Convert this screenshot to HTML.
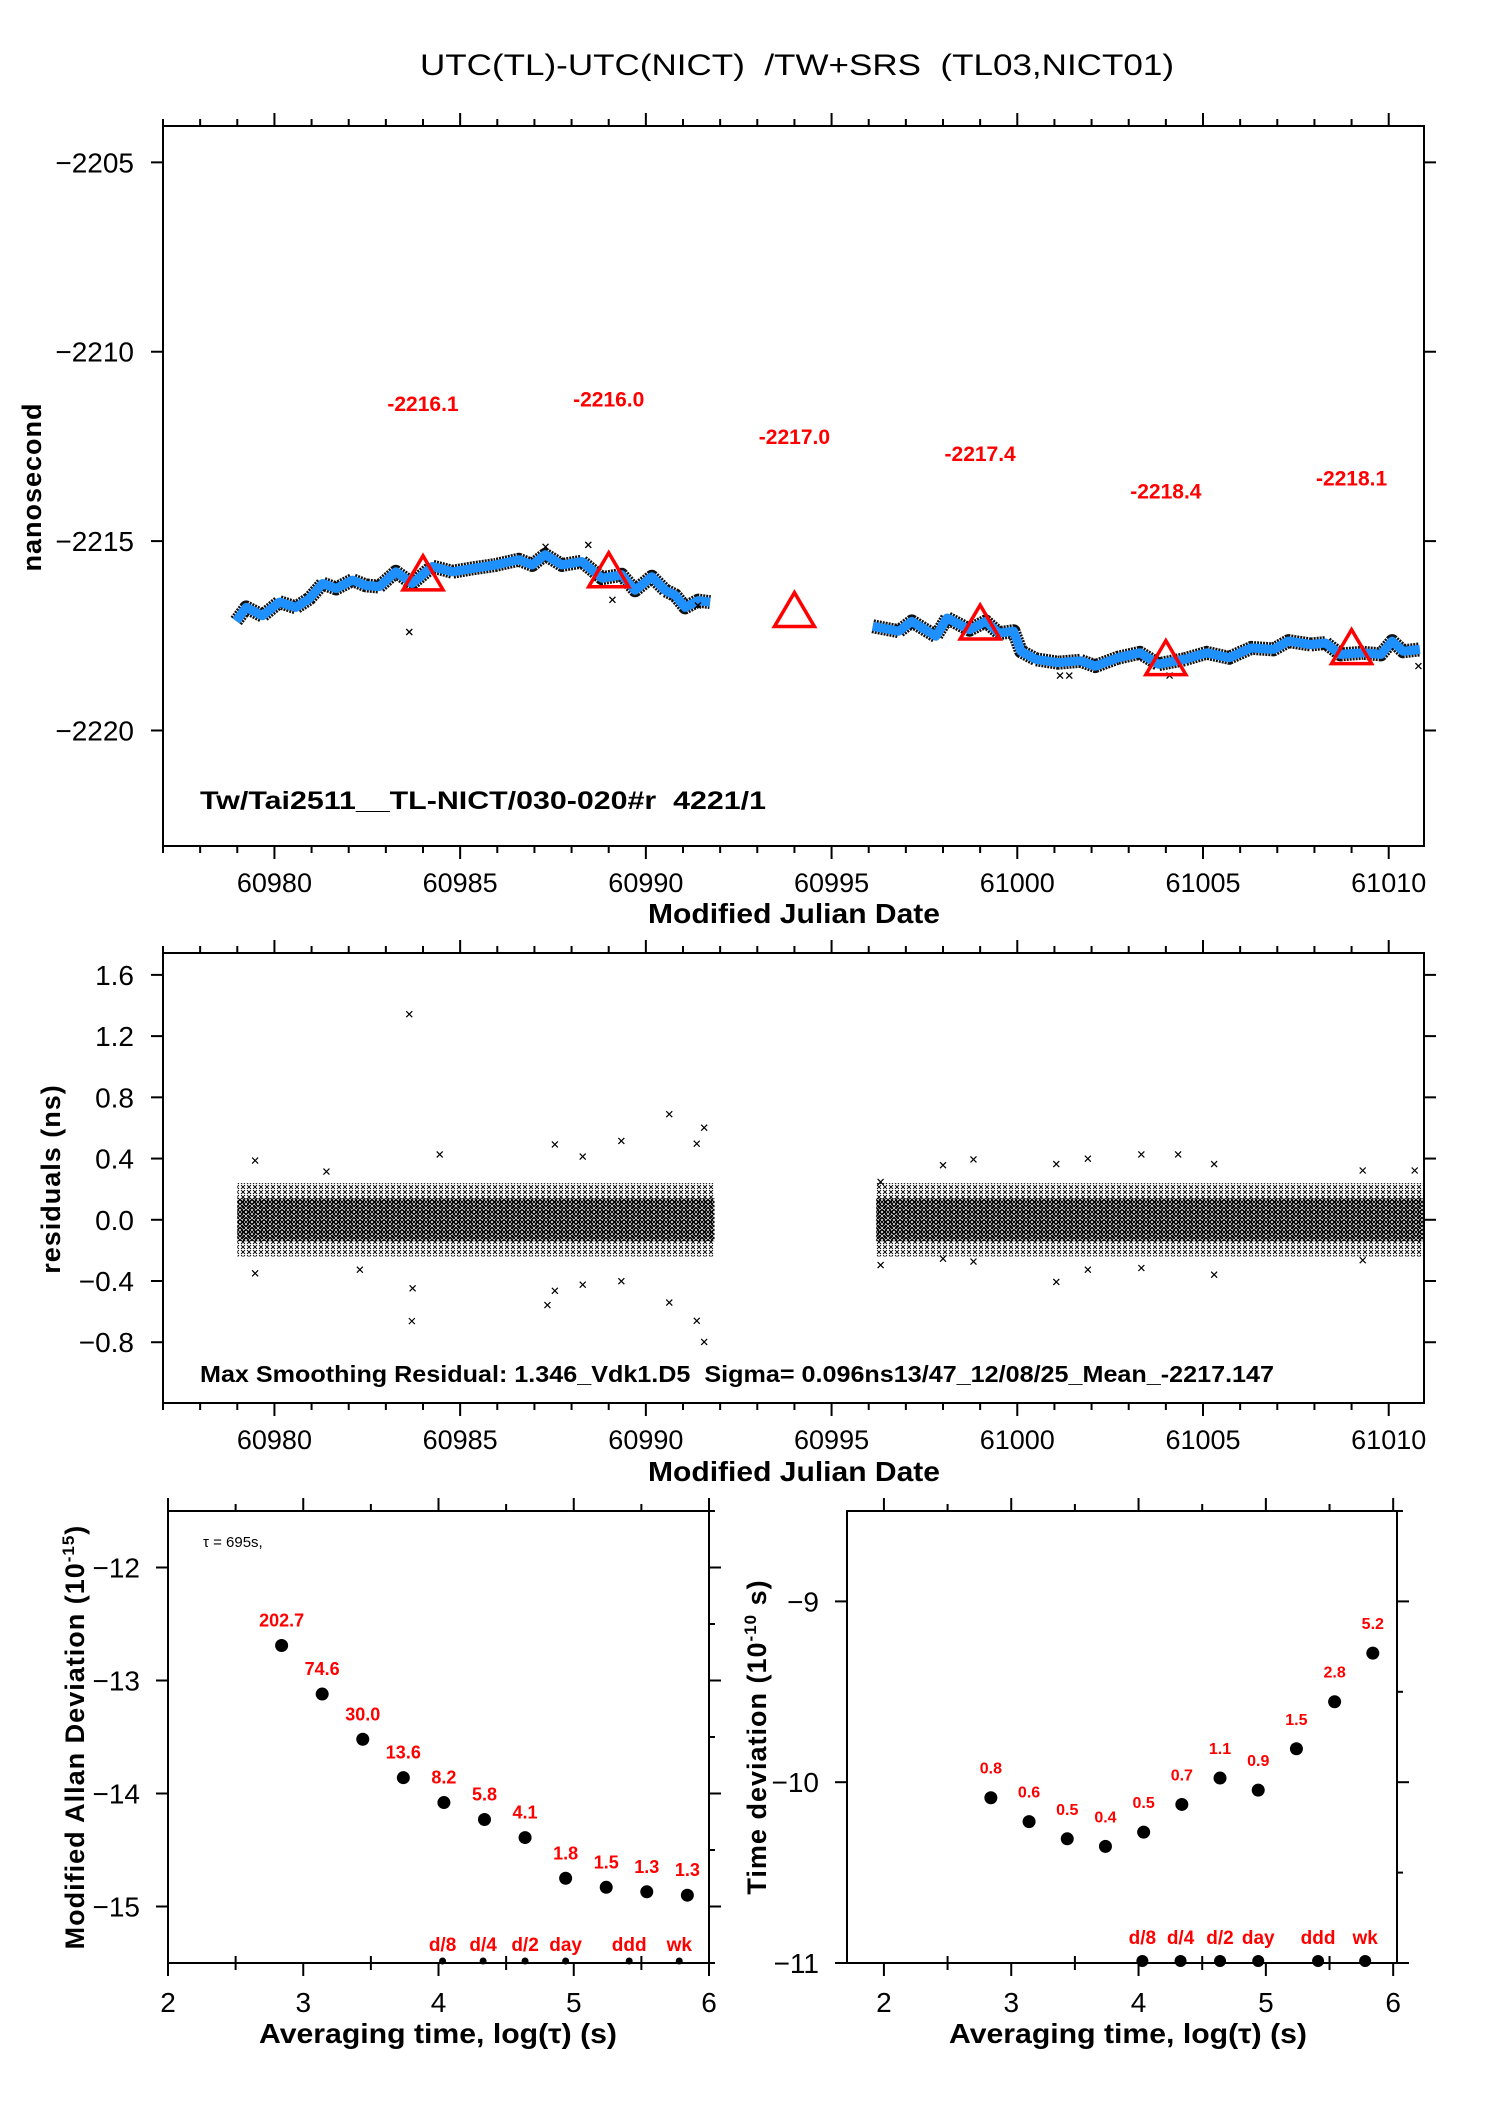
<!DOCTYPE html>
<html><head><meta charset="utf-8"><style>
html,body{margin:0;padding:0;background:#fff;}
svg{display:block;font-family:"Liberation Sans",Arial,sans-serif;}
text{white-space:pre;}
</style></head><body>
<svg id="chart" width="1488" height="2105" viewBox="0 0 1488 2105" xmlns="http://www.w3.org/2000/svg">
<defs>
<pattern id="xpat" width="4" height="4" patternUnits="userSpaceOnUse">
<path d="M0,0L4,4M4,0L0,4" stroke="#000" stroke-width="1"/>
</pattern>
<pattern id="xpat2" width="6" height="5" patternUnits="userSpaceOnUse">
<path d="M1,0L5,4M5,0L1,4" stroke="#000" stroke-width="0.9"/>
</pattern>
</defs>
<text x="797" y="75" font-size="30" text-anchor="middle" textLength="754" lengthAdjust="spacingAndGlyphs">UTC(TL)-UTC(NICT)  /TW+SRS  (TL03,NICT01)</text>
</svg>
<script>
// ---------- Data: panel 1 (time series) ----------
const seriesMjd = [60978.97,60979.24,60979.68,60980.13,60980.58,60980.94,60981.30,60981.66,60982.10,60982.46,60982.82,60983.27,60983.71,60984.25,60984.79,60985.33,60985.95,60986.58,60986.94,60987.29,60987.74,60988.28,60988.82,60989.35,60989.71,60990.16,60990.52,60990.79,60991.06,60991.41,60991.73,
 null,
 60996.11,60996.81,60997.16,60997.81,60998.11,60998.71,60999.15,60999.51,60999.90,61000.10,61000.50,61001.10,61001.70,61002.10,61002.70,61003.30,61003.80,61004.50,61005.10,61005.70,61006.30,61006.90,61007.30,61007.90,61008.30,61008.70,61009.30,61009.79,61010.09,61010.39,61010.84];
const seriesNs = [-2217.11,-2216.75,-2216.97,-2216.61,-2216.75,-2216.52,-2216.12,-2216.25,-2216.03,-2216.17,-2216.20,-2215.81,-2216.12,-2215.67,-2215.81,-2215.72,-2215.63,-2215.49,-2215.63,-2215.36,-2215.63,-2215.54,-2215.98,-2215.89,-2216.30,-2215.94,-2216.30,-2216.43,-2216.75,-2216.57,-2216.61,
 null,
 -2217.25,-2217.38,-2217.12,-2217.51,-2217.03,-2217.34,-2217.12,-2217.43,-2217.38,-2217.91,-2218.12,-2218.21,-2218.16,-2218.30,-2218.08,-2217.95,-2218.25,-2218.12,-2217.95,-2218.08,-2217.82,-2217.86,-2217.64,-2217.73,-2217.69,-2217.99,-2217.95,-2217.99,-2217.64,-2217.91,-2217.86];
const outlierMjd = [60983.63,60987.30,60988.45,60989.10,60991.40,61001.15,61001.40,61004.10,61010.80];
const outlierNs = [-2217.40,-2215.15,-2215.10,-2216.55,-2216.70,-2218.55,-2218.55,-2218.55,-2218.30];
const triMjd = [60984,60989,60994,60999,61004,61009];
const triNs = [-2215.89,-2215.81,-2216.86,-2217.19,-2218.13,-2217.84];
const triLabels = ["-2216.1","-2216.0","-2217.0","-2217.4","-2218.4","-2218.1"];
const triLabelNs = [-2211.36,-2211.23,-2212.23,-2212.68,-2213.66,-2213.32];
const p1YTicks = [-2205,-2210,-2215,-2220];
const mjdTicks = [60980,60985,60990,60995,61000,61005,61010];

// ---------- Data: panel 2 (residuals) ----------
const bandStart = [60979.0,60996.2];
const bandEnd = [60991.85,61010.95];
const residMjd = [60983.63,60979.48,60979.48,60983.70,60983.72,60987.35,60987.55,60987.55,60989.34,60989.34,60990.63,60990.63,60991.57,60991.57,60991.37,60991.37,60984.45,60982.30,60981.40,60988.30,60988.30,60996.32,60996.32,60998.82,60998.82,61001.05,61001.05,61001.90,61001.90,61003.34,61003.34,61004.33,61005.30,61005.30,61009.30,61009.30,61010.70,60998.00,60998.00];
const residVal = [1.343,0.387,-0.35,-0.662,-0.448,-0.557,-0.464,0.492,0.515,-0.401,0.69,-0.541,0.602,-0.798,-0.66,0.497,0.427,-0.326,0.315,0.413,-0.424,-0.296,0.247,0.394,-0.273,0.364,-0.406,0.399,-0.326,0.427,-0.315,0.427,0.364,-0.359,0.322,-0.264,0.322,0.357,-0.254];
const p2YTicks = [1.6,1.2,0.8,0.4,0.0,-0.4,-0.8];
const p2YLabels = ["1.6","1.2","0.8","0.4","0.0","\u22120.4","\u22120.8"];

// ---------- Data: panels 3/4 (stability) ----------
const logTau = [2.84,3.14,3.44,3.74,4.04,4.34,4.64,4.94,5.24,5.54,5.84];
const mdevLabels = ["202.7","74.6","30.0","13.6","8.2","5.8","4.1","1.8","1.5","1.3","1.3"];
const mdevLog = [-12.69,-13.12,-13.52,-13.86,-14.08,-14.23,-14.39,-14.75,-14.83,-14.87,-14.90];
const tdevLabels = ["0.8","0.6","0.5","0.4","0.5","0.7","1.1","0.9","1.5","2.8","5.2"];
const tdevLog = [-10.086,-10.218,-10.313,-10.355,-10.276,-10.123,-9.977,-10.044,-9.815,-9.555,-9.286];
const markNames = ["d/8","d/4","d/2","day","ddd","wk"];
const markLog = [4.03,4.33,4.64,4.94,5.41,5.78];
const mdevYTicks = [-12,-13,-14,-15];
const tdevYTicks = [-9,-10,-11];
const tauTicks = [2,3,4,5,6];

// ---------- helpers ----------
const NS = "http://www.w3.org/2000/svg";
const svg = document.getElementById("chart");
function mk(tag, attrs, parent){
  const e = document.createElementNS(NS, tag);
  for (const k in attrs) e.setAttribute(k, attrs[k]);
  (parent||svg).appendChild(e);
  return e;
}
function lin(d0,d1,r0,r1){ return v => r0 + (v-d0)*(r1-r0)/(d1-d0); }
function line(x1,y1,x2,y2,g,w){ return mk("line",{x1:x1,y1:y1,x2:x2,y2:y2,stroke:"#000","stroke-width":w||2},g); }

// ---------- Panel 1 ----------
const P1 = {l:163,r:1424,t:126,b:846};
const x1 = lin(60977,61010.95,P1.l,P1.r);
const y1 = lin(-2223.05,-2204.04,P1.b,P1.t);
const g1 = mk("g",{});


const f1 = mk("rect",{x:P1.l,y:P1.t,width:P1.r-P1.l,height:P1.b-P1.t,fill:"none",stroke:"#000","stroke-width":2},g1);


for (let d=60977; d<=61010; d++){
  const major = (d%5===0);
  const L = major?13:7;
  line(x1(d),P1.t,x1(d),P1.t-L,g1,2);
  line(x1(d),P1.b,x1(d),P1.b+L,g1,2);
}
mjdTicks.forEach(v=>{
  const t = mk("text",{x:x1(v),y:892,"font-size":27,"text-anchor":"middle"},g1);
  t.textContent = v;
  
  
});
p1YTicks.forEach(v=>{
  line(P1.l-12,y1(v),P1.l,y1(v),g1,2);
  line(P1.r,y1(v),P1.r+12,y1(v),g1,2);
  const t = mk("text",{x:134,y:y1(v)+10,"font-size":28,"text-anchor":"end"},g1);
  t.textContent = "\u2212"+Math.abs(v);
  
  
});
let segs=[[]];
for (let i=0;i<seriesMjd.length;i++){
  if (seriesMjd[i]===null){ segs.push([]); continue; }
  segs[segs.length-1].push([x1(seriesMjd[i]),y1(seriesNs[i])]);
}
segs.forEach(s=>{
  const d = s.map((p,i)=>(i?"L":"M")+p[0].toFixed(1)+","+p[1].toFixed(1)).join("");
  const bk = mk("path",{d:d,fill:"none",stroke:"#111","stroke-width":14,"stroke-linejoin":"round","stroke-dasharray":"2 1"},g1);
  
  
  const bl = mk("path",{d:d,fill:"none",stroke:"#1e90ff","stroke-width":9,"stroke-linejoin":"round"},g1);
  
  
});
outlierMjd.forEach((m,i)=>{
  const cx=x1(m), cy=y1(outlierNs[i]);
  const p = mk("path",{d:`M${cx-3},${cy-3}L${cx+3},${cy+3}M${cx+3},${cy-3}L${cx-3},${cy+3}`,stroke:"#000","stroke-width":1.3},g1);
  
  
});
triMjd.forEach((m,i)=>{
  const cx=x1(m), cy=y1(triNs[i]);
  const tr = mk("path",{d:`M${cx},${cy-19}L${cx+20},${cy+15}L${cx-20},${cy+15}Z`,fill:"none",stroke:"#ff0000","stroke-width":3.5},g1);
  
  
  const t = mk("text",{x:cx,y:y1(triLabelNs[i])+8,"font-size":21,"font-weight":"bold",fill:"#ff0000","text-anchor":"middle"},g1);
  t.textContent = triLabels[i];
  
  
});
{
  const t = mk("text",{x:200,y:809,"font-size":25,"font-weight":"bold",textLength:566,lengthAdjust:"spacingAndGlyphs"},g1);
  t.textContent = "Tw/Tai2511__TL-NICT/030-020#r  4221/1";
  
  
  const yl = mk("text",{x:0,y:0,"font-size":27,"font-weight":"bold","text-anchor":"middle","letter-spacing":"1",transform:"translate(41,487) rotate(-90)"},g1);
  yl.textContent = "nanosecond";
  
  
  const xl = mk("text",{x:794,y:923,"font-size":28,"font-weight":"bold","text-anchor":"middle",textLength:292,lengthAdjust:"spacingAndGlyphs"},g1);
  xl.textContent = "Modified Julian Date";
  
  
}

// ---------- Panel 2 ----------
const P2 = {l:163,r:1424,t:953,b:1403};
const x2 = lin(60977,61010.95,P2.l,P2.r);
const y2 = lin(-1.197,1.743,P2.b,P2.t);
const g2 = mk("g",{});


const f2 = mk("rect",{x:P2.l,y:P2.t,width:P2.r-P2.l,height:P2.b-P2.t,fill:"none",stroke:"#000","stroke-width":2},g2);


for (let d=60977; d<=61010; d++){
  const major=(d%5===0), L=major?13:7;
  line(x2(d),P2.t,x2(d),P2.t-L,g2,2);
  line(x2(d),P2.b,x2(d),P2.b+L,g2,2);
}
mjdTicks.forEach(v=>{
  const t = mk("text",{x:x2(v),y:1449,"font-size":27,"text-anchor":"middle"},g2);
  t.textContent = v;
  
  
});
p2YTicks.forEach((v,i)=>{
  line(P2.l-12,y2(v),P2.l,y2(v),g2,2);
  line(P2.r,y2(v),P2.r+12,y2(v),g2,2);
  const t = mk("text",{x:134,y:y2(v)+10,"font-size":28,"text-anchor":"end"},g2);
  t.textContent = p2YLabels[i];
  
  
});
bandStart.forEach((s,i)=>{
  const outer = mk("rect",{x:x2(s),y:y2(0.24),width:x2(bandEnd[i])-x2(s),height:y2(-0.24)-y2(0.24),fill:"url(#xpat2)"},g2);
  
  
  const inner = mk("rect",{x:x2(s),y:y2(0.14),width:x2(bandEnd[i])-x2(s),height:y2(-0.14)-y2(0.14),fill:"url(#xpat)"},g2);
  
  
});
residMjd.forEach((m,i)=>{
  const cx=x2(m), cy=y2(residVal[i]);
  const p = mk("path",{d:`M${cx-3},${cy-3}L${cx+3},${cy+3}M${cx+3},${cy-3}L${cx-3},${cy+3}`,stroke:"#000","stroke-width":1.2},g2);
  
  
});
{
  const t = mk("text",{x:200,y:1382,"font-size":23,"font-weight":"bold",textLength:1074,lengthAdjust:"spacingAndGlyphs"},g2);
  t.textContent = "Max Smoothing Residual: 1.346_Vdk1.D5  Sigma= 0.096ns13/47_12/08/25_Mean_-2217.147";
  
  
  const yl = mk("text",{x:0,y:0,"font-size":27,"font-weight":"bold","text-anchor":"middle","letter-spacing":"1",transform:"translate(60,1179) rotate(-90)"},g2);
  yl.textContent = "residuals (ns)";
  
  
  const xl = mk("text",{x:794,y:1481,"font-size":28,"font-weight":"bold","text-anchor":"middle",textLength:292,lengthAdjust:"spacingAndGlyphs"},g2);
  xl.textContent = "Modified Julian Date";
  
  
}

// ---------- Panels 3 & 4 ----------
function stabPanel(o){
  const g = mk("g",{});
  
  
  const xs = lin(o.xd0,o.xd1,o.l,o.r), ys = lin(o.yd0,o.yd1,o.b,o.t);
  const fr = mk("rect",{x:o.l,y:o.t,width:o.r-o.l,height:o.b-o.t,fill:"none",stroke:"#000","stroke-width":2},g);
  
  
  for (let v=2; v<=6.001; v+=0.5){
    const major = Math.abs(v-Math.round(v))<1e-6, L = major?13:7;
    line(xs(v),o.t,xs(v),o.t-L,g,2);
    line(xs(v),o.b+(major?0:-7),xs(v),o.b+L,g,2);
  }
  tauTicks.forEach(v=>{
    const t = mk("text",{x:xs(v),y:2012,"font-size":28,"text-anchor":"middle"},g);
    t.textContent = v;
    
    
  });
  for (let v=Math.ceil(o.yd0*2)/2; v<=o.yd1+1e-6; v+=0.5){
    const major = Math.abs(v-Math.round(v))<1e-6, L = major?12:6;
    line(o.r,ys(v),o.r+L,ys(v),g,2);
  }
  o.yticks.forEach(v=>{
    line(o.l-12,ys(v),o.l,ys(v),g,2);
    const t = mk("text",{x:o.l-28,y:ys(v)+10,"font-size":28,"text-anchor":"end"},g);
    t.textContent = "\u2212"+Math.abs(v);
    
    
  });
  o.vals.forEach((v,i)=>{
    const c = mk("circle",{cx:xs(logTau[i]),cy:ys(v),r:6.5,fill:"#000"},g);
    
    
    const t = mk("text",{x:xs(logTau[i]),y:ys(v)-o.labOff,"font-size":o.labSize,"font-weight":"bold",fill:"#ff0000","text-anchor":"middle"},g);
    t.textContent = o.labels[i];
    
    
  });
  markLog.forEach((m,i)=>{
    const c = mk("circle",{cx:xs(m),cy:o.b-2,r:o.markR,fill:"#000"},g);
    
    
    const t = mk("text",{x:xs(m),y:o.markY,"font-size":19,"font-weight":"bold",fill:"#ff0000","text-anchor":"middle"},g);
    t.textContent = markNames[i];
    
    
  });
  const xl = mk("text",{x:o.xlX,y:2043,"font-size":28,"font-weight":"bold","text-anchor":"middle",textLength:358,lengthAdjust:"spacingAndGlyphs"},g);
  xl.textContent = "Averaging time, log(\u03c4) (s)";
  
  
  const yl = mk("text",{x:0,y:0,"font-size":27,"font-weight":"bold","text-anchor":"middle","letter-spacing":"1",transform:`translate(${o.ylX},1737) rotate(-90)`},g);
  yl.innerHTML = o.ylabel;
  
  
  return g;
}
stabPanel({name:"panel-mdev",l:168,r:709,t:1511,b:1963,xd0:2,xd1:6,yd0:-15.5,yd1:-11.5,yticks:mdevYTicks,vals:mdevLog,labels:mdevLabels,labOff:19,labSize:18,markR:3.5,markY:1951,xlX:438,ylX:84,
  ylabel:'Modified Allan Deviation (10<tspan font-size="17" dy="-10">-15</tspan><tspan dy="10">)</tspan>'});
stabPanel({name:"panel-tdev",l:847,r:1397,t:1511,b:1963,xd0:1.71,xd1:6.03,yd0:-11,yd1:-8.5,yticks:tdevYTicks,vals:tdevLog,labels:tdevLabels,labOff:24,labSize:16,markR:6,markY:1944,xlX:1128,ylX:766,
  ylabel:'Time deviation (10<tspan font-size="17" dy="-10">-10</tspan><tspan dy="10"> s)</tspan>'});
{
  const t = mk("text",{x:203,y:1547,"font-size":15},svg);
  t.textContent = "\u03c4 = 695s,";
  
  
}
</script>
</body></html>
